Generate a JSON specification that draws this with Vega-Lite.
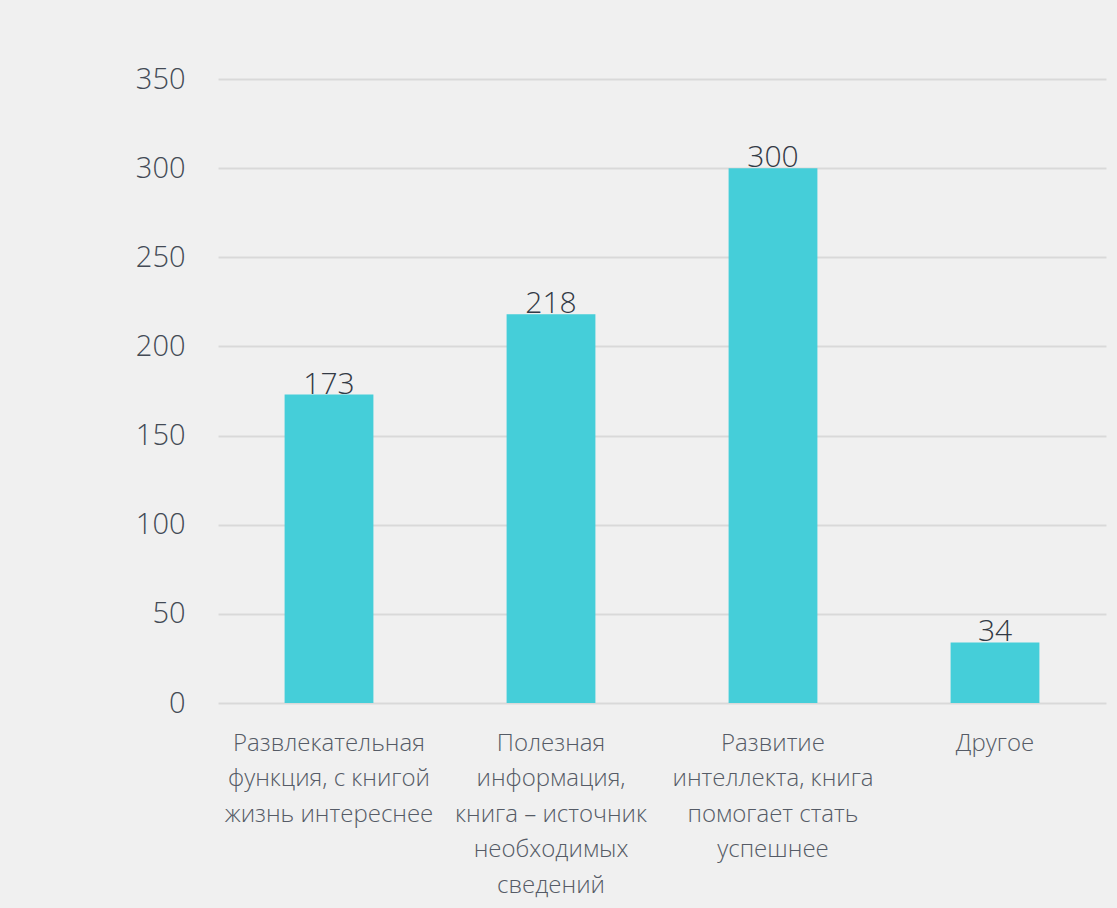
{
  "$schema": "https://vega.github.io/schema/vega-lite/v6.json",
  "width": 888,
  "height": 624,
  "autosize": {"type": "none"},
  "padding": {"left": 218, "top": 79, "right": 11, "bottom": 205},
  "background": "#f0f0f0",
  "config": {
    "view": {"stroke": null},
    "font": "Open Sans"
  },
  "data": {
    "values": [
      {"category": "Развлекательная\nфункция, с книгой\nжизнь интереснее", "value": 173},
      {"category": "Полезная\nинформация,\nкнига – источник\nнеобходимых\nсведений", "value": 218},
      {"category": "Развитие\nинтеллекта, книга\nпомогает стать\nуспешнее", "value": 300},
      {"category": "Другое", "value": 34}
    ]
  },
  "encoding": {
    "x": {
      "field": "category",
      "type": "nominal",
      "sort": null,
      "scale": {"paddingInner": 0.6, "paddingOuter": 0.3},
      "axis": {
        "title": null,
        "labelAngle": 0,
        "labelExpr": "split(datum.value, '\\n')",
        "labelFont": "Open Sans",
        "labelFontWeight": 300,
        "labelFontSize": 24,
        "labelLineHeight": 35.5,
        "labelColor": "#555b66",
        "labelPadding": 28,
        "labelBaseline": "top",
        "ticks": false,
        "domain": false,
        "labelLimit": 300
      }
    },
    "y": {
      "field": "value",
      "type": "quantitative",
      "scale": {"domain": [0, 350]},
      "axis": {
        "title": null,
        "values": [0, 50, 100, 150, 200, 250, 300, 350],
        "labelFont": "Open Sans",
        "labelFontWeight": 300,
        "labelFontSize": 29,
        "labelColor": "#434a55",
        "labelPadding": 33,
        "ticks": false,
        "domain": false,
        "gridColor": "#d9d9d9",
        "gridWidth": 2
      }
    }
  },
  "layer": [
    {
      "mark": {"type": "bar", "color": "#45ced9"}
    },
    {
      "mark": {
        "type": "text",
        "baseline": "bottom",
        "dy": 5,
        "font": "Open Sans",
        "fontWeight": 300,
        "fontSize": 30,
        "color": "#333a45"
      },
      "encoding": {
        "text": {"field": "value", "type": "quantitative"}
      }
    }
  ]
}
